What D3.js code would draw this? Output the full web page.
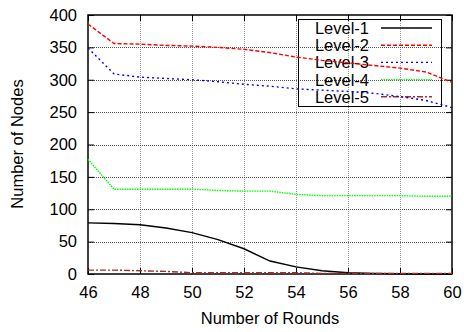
<!DOCTYPE html>
<html>
<head>
<meta charset="utf-8">
<script src="https://cdn.jsdelivr.net/npm/d3@7"></script>
<style>
  body { margin: 0; background: #fff; }
  text { font-family: "Liberation Sans", Arial, sans-serif; fill: #000; }
</style>
</head>
<body>
<div id="chart"></div>
<script>
// rounds on the x axis
let rounds = [46, 47, 48, 49, 50, 51, 52, 53, 54, 55, 56, 57, 58, 59, 60];

let level1 = [79, 78, 76, 71, 64, 53, 39, 20, 11, 5, 2, 1, 0.5, 0, 0];
let level2 = [386, 356, 355, 353, 352, 350, 347, 342, 335, 330, 326, 322, 318, 312, 296];
let level3 = [349, 309, 304, 302, 300, 297, 293, 290, 286, 284, 282, 279, 274, 268, 257];
let level4 = [177, 131, 131, 131, 131, 129, 128, 128, 123, 121, 121, 121, 121, 120, 120];
let level5 = [6, 6, 5, 4, 2, 2, 2, 2, 2, 1, 1, 1, 1, 1, 1];

let seriesNames = ['Level-1', 'Level-2', 'Level-3', 'Level-4', 'Level-5'];
let xTicks = [46, 48, 50, 52, 54, 56, 58, 60];
let yTicks = [0, 50, 100, 150, 200, 250, 300, 350, 400];

let width = 464, height = 332;
let margin = {top: 15, right: 12, bottom: 58, left: 88};

let svg = d3.select('#chart').append('svg')
  .attr('width', width)
  .attr('height', height);

let x = d3.scaleLinear().domain([46, 60]).range([margin.left, width - margin.right]);
let y = d3.scaleLinear().domain([0, 400]).range([height - margin.bottom, margin.top]);

let styles = [
  {color: '#000000', dash: null},
  {color: '#ff0000', dash: '4,2'},
  {color: '#0000ff', dash: '2,3'},
  {color: '#00ff00', dash: '1.5,1'},
  {color: '#a52a2a', dash: '6,2,2,2'}
];
let allData = [level1, level2, level3, level4, level5];

// grid
let grid = svg.append('g').attr('class', 'grid');
grid.selectAll('.gx').data(xTicks.slice(1, -1)).enter().append('line')
  .attr('x1', d => x(d) + 0.5).attr('x2', d => x(d) + 0.5)
  .attr('y1', y(0)).attr('y2', y(400))
  .attr('stroke', '#999').attr('stroke-width', 1).attr('stroke-dasharray', '1,1');
grid.selectAll('.gy').data(yTicks.slice(1, -1)).enter().append('line')
  .attr('x1', x(46)).attr('x2', x(60))
  .attr('y1', d => Math.round(y(d)) + 0.5).attr('y2', d => Math.round(y(d)) + 0.5)
  .attr('stroke', '#555').attr('stroke-width', 1).attr('stroke-dasharray', '1,1');

// axes (gnuplot style: inner ticks, mirrored)
let xAxis = d3.axisBottom(x).tickValues(xTicks).tickSizeInner(-6).tickSizeOuter(0).tickPadding(12);
let yAxis = d3.axisLeft(y).tickValues(yTicks).tickSizeInner(-6).tickSizeOuter(0).tickPadding(11);
let xTop = d3.axisTop(x).tickValues(xTicks).tickSizeInner(-6).tickSizeOuter(0).tickFormat('');
let yRight = d3.axisRight(y).tickValues(yTicks).tickSizeInner(-6).tickSizeOuter(0).tickFormat('');

svg.append('g').attr('transform', 'translate(0,' + y(0) + ')').call(xAxis);
svg.append('g').attr('transform', 'translate(' + x(46) + ',0)').call(yAxis);
svg.append('g').attr('transform', 'translate(0,' + y(400) + ')').call(xTop);
svg.append('g').attr('transform', 'translate(' + x(60) + ',0)').call(yRight);

svg.selectAll('.domain').remove();
svg.selectAll('.tick line').attr('stroke', '#000');
svg.selectAll('.tick text').style('font-size', '16.5px')
  .style('font-family', '"Liberation Sans", Arial, sans-serif');

svg.append('rect')
  .attr('x', x(46)).attr('y', y(400))
  .attr('width', x(60) - x(46)).attr('height', y(0) - y(400))
  .attr('fill', 'none').attr('stroke', '#000').attr('stroke-width', 1.5);

// legend box
let legend = svg.append('g');
legend.append('rect')
  .attr('x', 298.5).attr('y', 19.5).attr('width', 143).attr('height', 87)
  .attr('fill', 'none').attr('stroke', '#000').attr('stroke-width', 1);

// lines
let line = d3.line().x((d, i) => x(rounds[i])).y(d => y(d));
allData.forEach(function(values, k) {
  svg.append('path')
    .datum(values)
    .attr('d', line)
    .attr('fill', 'none')
    .attr('stroke', styles[k].color)
    .attr('stroke-width', 1.4)
    .attr('stroke-dasharray', styles[k].dash);
});

seriesNames.forEach(function(name, k) {
  let ly = 28 + k * 17.2;
  legend.append('text')
    .attr('x', 369).attr('y', ly + 6)
    .attr('text-anchor', 'end')
    .style('font-size', '16.5px')
    .text(name);
  legend.append('line')
    .attr('x1', 381).attr('x2', 432)
    .attr('y1', ly).attr('y2', ly)
    .attr('stroke', styles[k].color)
    .attr('stroke-width', 1.4)
    .attr('stroke-dasharray', styles[k].dash);
});

// axis titles
svg.append('text')
  .attr('x', 270).attr('y', 324)
  .attr('text-anchor', 'middle')
  .style('font-size', '16.5px')
  .text('Number of Rounds');

svg.append('text')
  .attr('transform', 'translate(23,144) rotate(-90)')
  .attr('text-anchor', 'middle')
  .style('font-size', '16.5px')
  .text('Number of Nodes');
</script>
</body>
</html>
